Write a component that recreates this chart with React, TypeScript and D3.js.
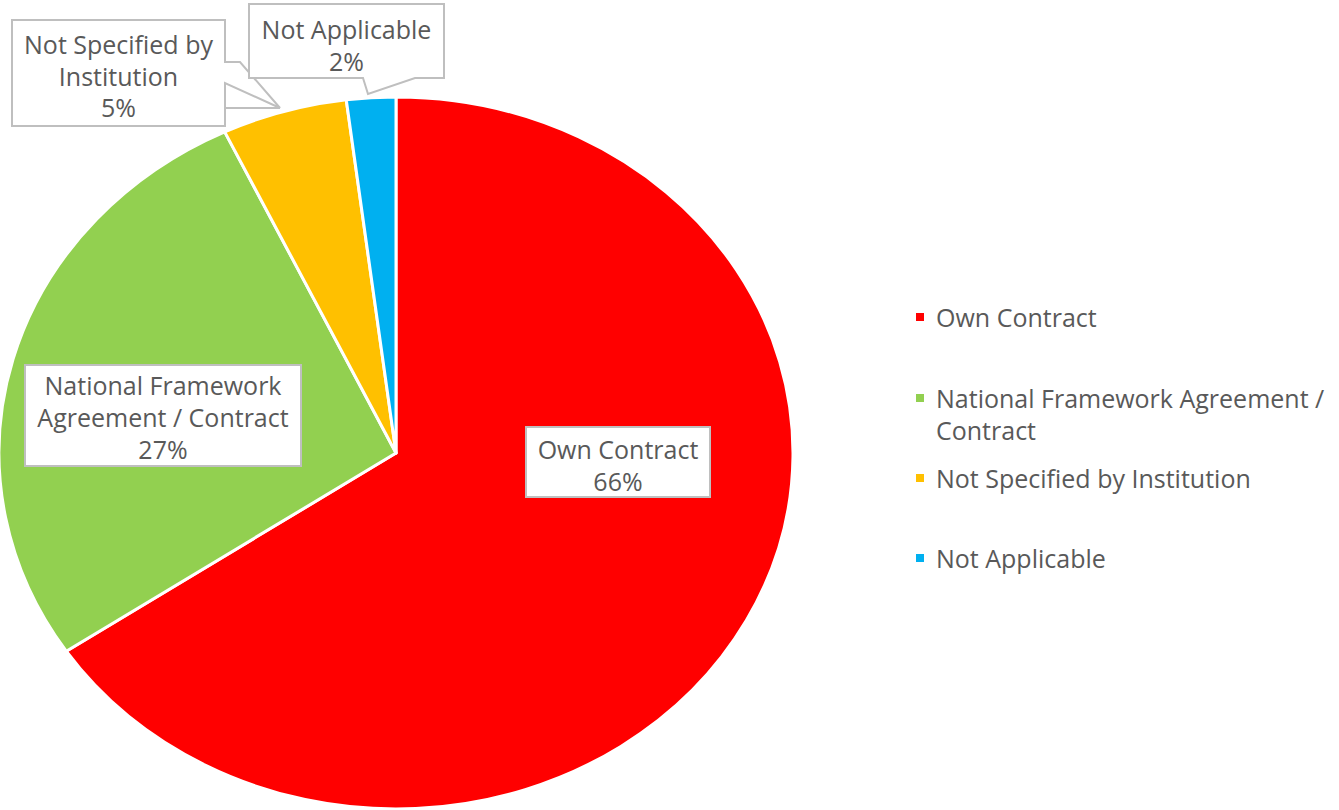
import React from 'react';
import * as d3 from 'd3';

const categories = [
  'Own Contract',
  'National Framework Agreement / Contract',
  'Not Specified by Institution',
  'Not Applicable',
];
const values = [65.6, 27.3, 5.1, 2.0];
const colors = ['#FF0000', '#92D050', '#FFC000', '#00B0F0'];
const labelLines = [
  ['Own Contract'],
  ['National Framework', 'Agreement / Contract'],
  ['Not Specified by', 'Institution'],
  ['Not Applicable'],
];
const legendLines = [
  ['Own Contract'],
  ['National Framework Agreement /', 'Contract'],
  ['Not Specified by Institution'],
  ['Not Applicable'],
];

// layout
const W = 1339;
const H = 810;
const CX = 396;
const CY = 453;
const RX = 397;
const RY = 356;
const FONT = "'Open Sans', sans-serif";
const FS = 25;
const TEXT = '#595959';
const BORDER = '#BFBFBF';
const labelBoxes = [
  { x: 526, y: 427, w: 184, h: 70, first: 449, step: 32 },
  { x: 25, y: 365, w: 276, h: 101, first: 385, step: 32 },
  { x: 12, y: 20, w: 213, h: 106, first: 44, step: 31.5 },
  { x: 249, y: 4, w: 195, h: 74, first: 29, step: 32 },
];
const legendX = 916;
const legendRows = [317, 398, 478, 558];

export default function App() {
  const total = d3.sum(values);
  const pct = d3.format('.0%');
  const pie = d3
    .pie<number>()
    .sort(null)
    .value((d) => d)
    .startAngle(0)
    .endAngle(2 * Math.PI);
  const arcs = pie(values);
  const arc = d3.arc<d3.PieArcDatum<number>>().innerRadius(0).outerRadius(RY);

  const b2 = labelBoxes[2];
  const b3 = labelBoxes[3];
  const r2 = b2.x + b2.w;
  const callout2 = `M${b2.x},${b2.y} H${r2} V62 H${r2 + 15} L280,108 L${r2},83 V${b2.y + b2.h} H${b2.x} Z`;
  const callout3 = `M${b3.x},${b3.y} H${b3.x + b3.w} V${b3.y + b3.h} H415 L368,94 L363,${b3.y + b3.h} H${b3.x} Z`;

  return (
    <svg
      width={W}
      height={H}
      style={{ position: 'absolute', left: 0, top: 0, background: '#fff' }}
      fontFamily={FONT}
    >
      <rect width={W} height={H} fill="#fff" />
      <g transform={`translate(${CX},${CY}) scale(${RX / RY},1)`}>
        {arcs.map((a, i) => (
          <path
            key={categories[i]}
            d={arc(a) || ''}
            fill={colors[i]}
            stroke="#fff"
            strokeWidth={3}
            vectorEffect="non-scaling-stroke"
            strokeLinejoin="round"
          />
        ))}
      </g>

      {labelBoxes.map((b, i) => {
        const lines = [...labelLines[i], pct(Math.round(values[i]) / 100)];
        let shape;
        if (i === 2) shape = <path d={callout2} fill="#fff" stroke={BORDER} strokeWidth={2} />;
        else if (i === 3) shape = <path d={callout3} fill="#fff" stroke={BORDER} strokeWidth={2} />;
        else shape = <rect x={b.x} y={b.y} width={b.w} height={b.h} fill="#fff" stroke={BORDER} strokeWidth={2} />;
        return (
          <g key={'lbl' + i}>
            {shape}
            {i === 2 && <path d={`M${r2},108 H280`} stroke={BORDER} strokeWidth={2} fill="none" />}
            {lines.map((t, j) => (
              <text
                key={j}
                x={b.x + b.w / 2}
                y={b.first + j * b.step}
                textAnchor="middle"
                dominantBaseline="central"
                fontSize={FS}
                fill={TEXT}
              >
                {t}
              </text>
            ))}
          </g>
        );
      })}

      {legendLines.map((lines, i) => (
        <g key={'leg' + i}>
          <rect x={legendX} y={legendRows[i] - 4} width={8} height={8} fill={colors[i]} />
          {lines.map((t, j) => (
            <text
              key={j}
              x={legendX + 20}
              y={legendRows[i] + j * 32}
              dominantBaseline="central"
              fontSize={FS}
              fill={TEXT}
            >
              {t}
            </text>
          ))}
        </g>
      ))}
    </svg>
  );
}
